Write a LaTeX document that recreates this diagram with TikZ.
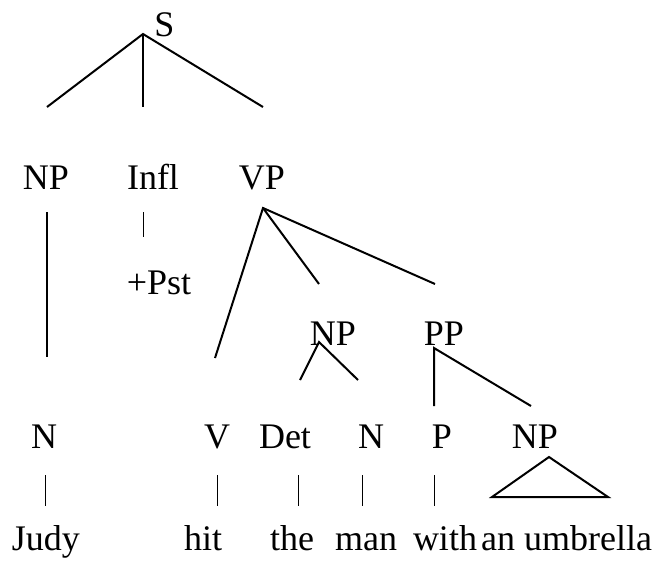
\documentclass[tikz,border=0pt]{standalone}
\usepackage{fontspec}
\setmainfont{Liberation Serif}
\usetikzlibrary{positioning}
\tikzset{
  cat/.style={anchor=base, inner sep=0pt, font=\fontsize{36}{43}\selectfont},
  branch/.style={line width=2pt},
  bar/.style={line width=1pt},
}
\begin{document}
\begin{tikzpicture}[x=1pt,y=-1pt]
    \useasboundingbox (0,0) rectangle (664,563);

    % category labels
    \node[cat] (S) at (164.5,36) {S};
    \foreach \x/\y/\n/\m in {
        46/189/np/NP, 153/189/infl/Infl, 262/189/vp/VP,
        159/294/pst/+Pst,
        333/345/npo/NP, 444/345/pp/PP,
        44/448/n/N, 217/448/v/V, 285/448/det/Det,
        371/448/nt/N, 442/448/p/P, 535/448/npu/NP}
        \node[cat] (\n) at (\x,\y) {\m};

    % the sentence
    \foreach \x/\n/\m in {
        46/judy/Judy, 203/hit/hit, 292/the/the, 366/man/man,
        445/with/with, 498/an/an, 588/umb/umbrella}
        \node[cat] (\n) at (\x,550) {\m};

    % branch points
    \coordinate (s-top) at (143,34);
    \coordinate (s-l) at (47,107);
    \coordinate (s-m) at (143,107);
    \coordinate (s-r) at (263,107);
    \coordinate (np-a) at (47,212);
    \coordinate (np-b) at (47,357);
    \coordinate (vp-top) at (263,208);
    \coordinate (vp-l) at (215,358);
    \coordinate (vp-m) at (319,284);
    \coordinate (vp-r) at (435,284);
    \coordinate (npo-top) at (319,342);
    \coordinate (npo-l) at (300,380);
    \coordinate (npo-r) at (358,380);
    \coordinate (pp-top) at (434,348);
    \coordinate (pp-l) at (434,406);
    \coordinate (pp-r) at (531,406);
    \coordinate (tri-top) at (549,457);
    \coordinate (tri-l) at (492,497);
    \coordinate (tri-r) at (608,497);

    \draw[branch] (s-l) -- (s-top) -- (s-r);
    \draw[branch] (s-top) -- (s-m);
    \draw[branch] (np-a) -- (np-b);
    \draw[branch] (vp-l) -- (vp-top) -- (vp-r);
    \draw[branch] (vp-top) -- (vp-m);
    \draw[branch] (npo-l) -- (npo-top) -- (npo-r);
    \draw[branch] (pp-l) -- (pp-top) -- (pp-r);
    \draw[branch] (tri-top) -- (tri-l) -- (tri-r) -- cycle;

    % short bars
    \coordinate (infl-a) at (143,212);
    \coordinate (infl-b) at (143,237);
    \draw[bar] (infl-a) -- (infl-b);
    \foreach \x in {45, 217, 298, 362, 434} {
        \coordinate (bar-a-\x) at (\x,475);
        \coordinate (bar-b-\x) at (\x,506);
        \draw[bar] (bar-a-\x) -- (bar-b-\x);
    }
\end{tikzpicture}
\end{document}
